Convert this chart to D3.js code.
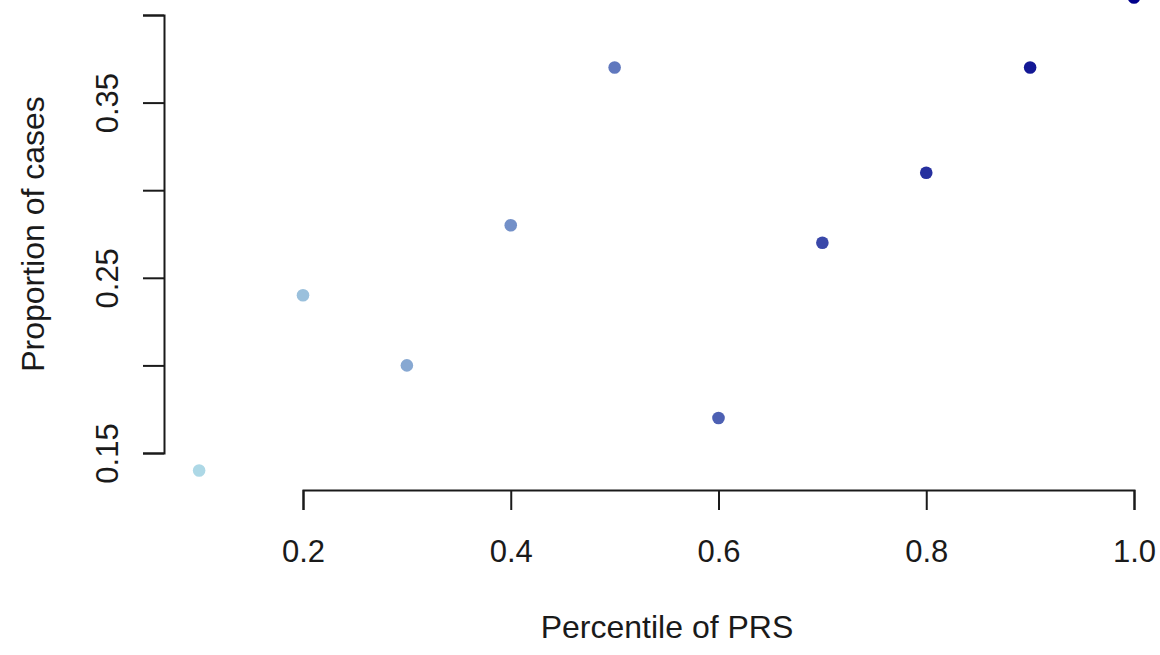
<!DOCTYPE html>
<html>
<head>
<meta charset="utf-8">
<script src="https://cdn.jsdelivr.net/npm/d3@7"></script>
<style>
  html, body { margin: 0; padding: 0; background: #fff; }
  svg { display: block; }
  text { font-family: "Liberation Sans", Arial, sans-serif; fill: #1a1a1a; }
</style>
</head>
<body>
<svg id="chart" width="1160" height="655"></svg>
<script>
// ---- data ----
const percentiles = [0.1, 0.2, 0.3, 0.4, 0.5, 0.6, 0.7, 0.8, 0.9, 1.0];
const proportions = [0.14, 0.24, 0.20, 0.28, 0.37, 0.17, 0.27, 0.31, 0.37, 0.41];
const xTicks = [0.2, 0.4, 0.6, 0.8, 1.0];
const yTicks = [0.15, 0.20, 0.25, 0.30, 0.35, 0.40];
const yTickLabels = ["0.15", "", "0.25", "", "0.35", ""];
const xTitle = "Percentile of PRS";
const yTitle = "Proportion of cases";

// ---- layout ----
const svg = d3.select("#chart");
const x = d3.scaleLinear().domain([0.2, 1.0]).range([303, 1134]);
const y = d3.scaleLinear().domain([0.15, 0.40]).range([453, 15]);
const color = d3.scaleLinear().domain([0, percentiles.length - 1])
  .range(["lightblue", "darkblue"]).interpolate(d3.interpolateRgb);

// x axis
const xAxis = d3.axisBottom(x).tickValues(xTicks).tickSize(20)
  .tickFormat(d3.format(".1f"));
const gx = svg.append("g").attr("transform", "translate(0,490)").call(xAxis);
gx.select(".domain").attr("stroke", "#1a1a1a").attr("stroke-width", 2);
gx.selectAll(".tick line").attr("stroke", "#1a1a1a").attr("stroke-width", 2);
gx.selectAll(".tick text").attr("font-size", 31).attr("fill", "#1a1a1a")
  .attr("font-family", "Liberation Sans, Arial, sans-serif")
  .attr("y", 72).attr("dy", null);

// y axis
const yAxis = d3.axisLeft(y).tickValues(yTicks).tickSize(21)
  .tickFormat((d, i) => yTickLabels[i]);
const gy = svg.append("g").attr("transform", "translate(164,0)").call(yAxis);
gy.select(".domain").attr("stroke", "#1a1a1a").attr("stroke-width", 2);
gy.selectAll(".tick line").attr("stroke", "#1a1a1a").attr("stroke-width", 2);
gy.selectAll(".tick text")
  .attr("font-size", 31).attr("fill", "#1a1a1a")
  .attr("font-family", "Liberation Sans, Arial, sans-serif")
  .attr("text-anchor", "middle").attr("x", null).attr("dy", null)
  .attr("transform", "translate(-46,0) rotate(-90)");

// titles
svg.append("text").attr("x", 667).attr("y", 638).attr("text-anchor", "middle")
  .attr("font-size", 32).text(xTitle);
svg.append("text").attr("transform", "translate(44,234) rotate(-90)")
  .attr("text-anchor", "middle").attr("font-size", 32).text(yTitle);

// points
svg.append("g").selectAll("circle")
  .data(percentiles.map((p, i) => ({ p, v: proportions[i], i })))
  .join("circle")
  .attr("cx", d => x(d.p))
  .attr("cy", d => y(d.v))
  .attr("r", 6.3)
  .attr("fill", d => color(d.i));
</script>
</body>
</html>
